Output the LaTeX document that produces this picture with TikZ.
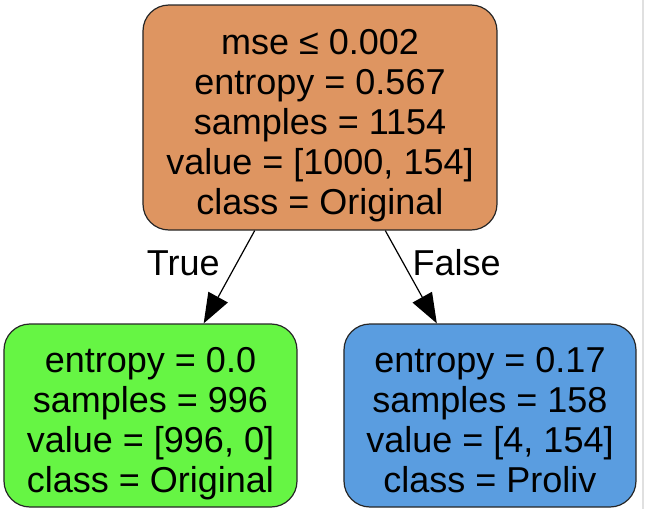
\documentclass[tikz,border=0pt]{standalone}
\usepackage{fontspec}
\setmainfont{Liberation Sans}
\usetikzlibrary{arrows.meta}

\definecolor{rootfill}{HTML}{DE9561}
\definecolor{truefill}{HTML}{66F544}
\definecolor{falsefill}{HTML}{5A9DE0}

\begin{document}
\begin{tikzpicture}[x=0.5pt,y=-0.5pt,
    box/.style={draw=black!85,line width=0.6pt,rounded corners=13pt,align=center,
      font=\fontsize{18}{20}\selectfont,inner sep=0pt},
    edge/.style={line width=0.6pt,-{Triangle[length=15pt,width=11pt]}}]
      \useasboundingbox (0,0) rectangle (645,509);
      \draw[black!12,line width=0.6pt] (643,0)--(643,509);
      \node[box,fill=rootfill,minimum width=177pt,minimum height=112.5pt] (root) at (320,117.5)
      {\rule{0pt}{21pt}mse ≤ 0.002\\entropy = 0.567\\samples = 1154\\value = [1000, 154]\\class = Original};
      \node[box,fill=truefill,minimum width=146.5pt,minimum height=91.5pt] (left) at (150.5,415.5)
      {\rule{0pt}{21pt}entropy = 0.0\\samples = 996\\value = [996, 0]\\class = Original};
      \node[box,fill=falsefill,minimum width=146pt,minimum height=91.5pt] (right) at (490,415.5)
      {\rule{0pt}{21pt}entropy = 0.17\\samples = 158\\value = [4, 154]\\class = Proliv\rule[-4pt]{0pt}{4pt}};
      \draw[edge] (root.-120)--(left.60)
      node[pos=0.35,left=5pt,font=\fontsize{18}{20}\selectfont] {True};
      \draw[edge] (root.-60)--(right.120)
      node[pos=0.35,right=1pt,font=\fontsize{18}{20}\selectfont] {False};
    \end{tikzpicture}
\end{document}
